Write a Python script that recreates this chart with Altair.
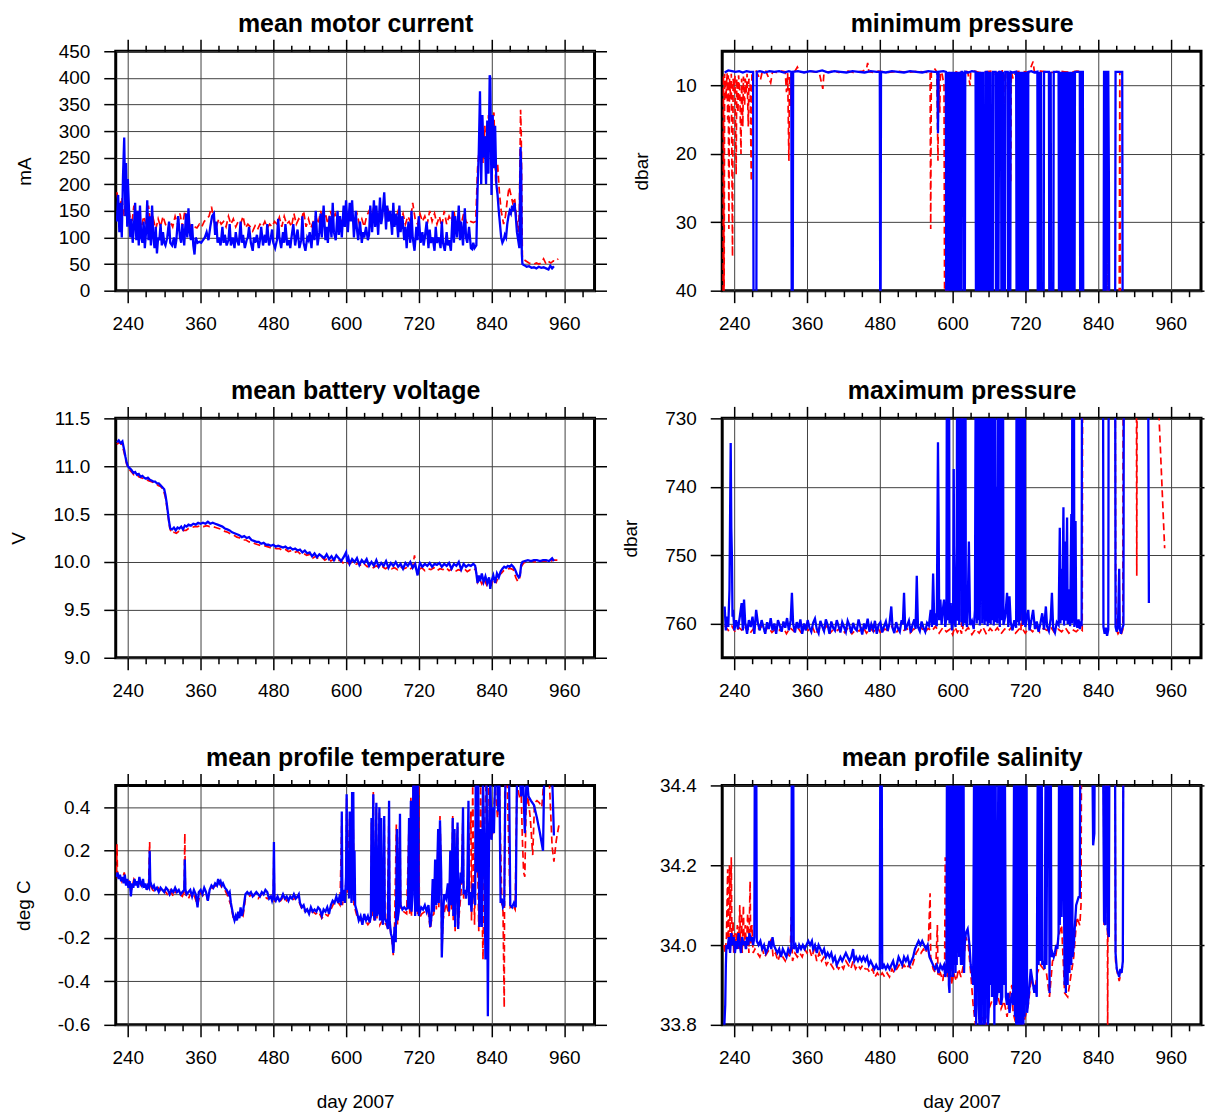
import altair as alt
import pandas as pd

FONT = "Liberation Sans"
X_DOMAIN = [220, 1010]
X_MAJOR = [240, 360, 480, 600, 720, 840, 960]
X_MINOR = [270, 300, 330, 390, 420, 450, 510, 540, 570, 630, 660, 690, 750, 780, 810, 870, 900, 930, 990]
PW, PH = 480, 240

# ---------------- mean motor current (mA) ----------------
motor_blue = [(222,130),(224,180),(226,110),(228,165),(230,100),(232,215),(234,288),(236,140),(237,240),(239,120),(240,210),(242,150),(244,100),(246,135),(248,90),(250,120),(252,165),(254,95),(256,150),(258,85),(260,160),(262,100),(264,90),(266,130),(268,80),(270,110),(272,170),(274,95),(276,140),(278,85),(280,160),(282,100),(284,80),(286,120),(288,70),(290,100),(292,95),(294,125),(296,85),(298,110),(300,90),(302,85),(305,100),(308,130),(310,90),(313,85),(316,100),(318,80),(320,95),(323,140),(326,100),(328,90),(330,125),(333,85),(336,145),(338,100),(340,155),(342,110),(344,95),(346,125),(348,85),(350,68),(352,100),(355,90),(358,92),(361,90),(364,95),(367,100),(370,110),(373,95),(376,120),(379,140),(382,145),(384,105),(386,130),(388,90),(390,100),(393,85),(396,120),(398,90),(400,105),(403,85),(406,95),(408,125),(410,85),(413,100),(416,80),(418,110),(420,95),(423,85),(426,130),(428,90),(430,105),(433,80),(436,95),(438,100),(440,120),(443,90),(446,75),(448,100),(450,90),(453,105),(456,80),(458,95),(460,120),(463,85),(466,105),(468,90),(470,125),(473,85),(476,100),(478,115),(480,90),(483,80),(486,95),(488,135),(490,100),(493,80),(496,110),(498,90),(500,125),(503,85),(506,95),(508,80),(510,100),(513,125),(516,85),(518,100),(520,115),(523,80),(526,95),(528,140),(530,90),(533,75),(536,100),(538,95),(540,110),(543,80),(546,130),(548,95),(550,150),(553,85),(556,110),(558,145),(560,100),(563,160),(566,95),(568,120),(570,90),(573,140),(576,100),(578,165),(580,110),(583,95),(586,150),(588,105),(590,140),(593,100),(596,160),(598,120),(600,170),(603,110),(606,165),(608,130),(610,170),(613,100),(616,150),(618,115),(620,95),(623,130),(626,90),(628,110),(630,100),(633,120),(636,95),(638,105),(640,160),(643,110),(646,170),(648,120),(650,160),(653,105),(656,175),(658,125),(660,140),(663,185),(666,115),(668,160),(670,130),(673,150),(676,105),(678,165),(680,120),(683,145),(686,100),(688,160),(690,110),(693,140),(696,95),(698,120),(700,80),(703,130),(706,90),(708,150),(710,100),(713,75),(716,120),(718,95),(720,140),(723,90),(726,110),(728,85),(730,100),(733,130),(736,80),(738,115),(740,90),(743,100),(746,75),(748,120),(750,90),(753,100),(756,80),(758,130),(760,90),(763,75),(766,110),(768,85),(770,95),(773,75),(776,150),(778,90),(780,140),(783,100),(786,160),(788,95),(790,130),(793,85),(796,155),(798,100),(800,90),(803,120),(806,80),(808,78),(810,90),(812,80),(815,85),(817,190),(819,260),(821,375),(823,200),(825,330),(827,250),(829,290),(831,200),(833,320),(835,220),(837,405),(838,400),(840,180),(842,330),(844,230),(846,310),(848,200),(850,180),(852,150),(854,125),(856,100),(858,90),(860,95),(862,105),(864,100),(866,125),(868,140),(870,150),(872,145),(874,160),(876,150),(878,165),(880,140),(882,110),(884,95),(886,80),(887,180),(888,270),(889,230),(890,70),(891,50),(894,48),(898,45),(902,46),(906,43),(910,44),(914,42),(918,45),(922,43),(926,44),(930,42),(934,40),(937,47),(940,42),(943,46)]
motor_red = [(222,185),(226,150),(230,175),(234,140),(238,200),(242,150),(246,120),(250,160),(254,130),(258,150),(262,115),(266,140),(270,125),(274,160),(278,120),(282,135),(286,115),(290,135),(294,120),(298,140),(302,125),(306,115),(310,130),(314,120),(318,140),(322,125),(326,145),(330,120),(334,150),(338,130),(342,125),(346,115),(350,120),(354,118),(358,125),(362,120),(366,130),(370,135),(374,140),(378,158),(382,130),(386,120),(390,135),(394,125),(398,130),(402,120),(406,140),(410,125),(414,135),(418,120),(422,130),(426,125),(430,140),(434,118),(438,125),(442,120),(446,112),(450,122),(454,115),(458,125),(462,120),(466,130),(470,118),(474,125),(478,120),(482,130),(486,125),(490,138),(494,120),(498,140),(502,125),(506,130),(510,120),(514,145),(518,125),(522,135),(526,130),(530,150),(534,120),(538,135),(542,118),(546,130),(550,140),(554,125),(558,150),(562,130),(566,145),(570,125),(574,150),(578,135),(582,145),(586,130),(590,140),(594,125),(598,145),(602,135),(606,150),(610,140),(614,130),(618,145),(622,125),(626,135),(630,120),(634,140),(638,150),(642,130),(646,160),(650,135),(654,150),(658,140),(662,160),(666,135),(670,150),(674,130),(678,145),(682,135),(686,150),(690,130),(694,145),(698,125),(702,140),(706,130),(710,165),(714,135),(718,125),(722,145),(726,130),(730,140),(734,125),(738,150),(742,130),(746,145),(750,125),(754,140),(758,120),(762,150),(766,125),(770,140),(774,130),(778,150),(782,120),(786,135),(790,125),(794,145),(798,130),(802,125),(806,130),(810,128),(814,130),(817,230),(820,270),(823,330),(826,240),(829,310),(832,235),(835,330),(838,260),(841,300),(844,335),(847,200),(850,240),(853,185),(856,150),(860,125),(863,140),(866,170),(869,195),(872,180),(875,165),(878,175),(881,140),(884,110),(886,150),(888,340),(889,300),(891,60),(894,58),(898,55),(902,52),(906,50),(910,50),(914,52),(918,50),(922,52),(926,60),(930,50),(934,55),(938,52),(942,56),(946,55),(950,60)]

# ---------------- minimum pressure (dbar) ----------------
minp_blue = [(224,8.1),(230,7.8),(236,7.9),(242,8.0),(248,7.9),(254,8.1),(260,7.9),(266,8.0),(271,8.0),(272,60),(276,60),(277,8.0),(282,7.9),(290,8.1),(298,7.9),(306,8.0),(314,7.9),(322,8.1),(330,7.9),(334,8.0),(335,60),(336,60),(337,8.0),(345,7.9),(355,8.1),(365,7.9),(375,8.0),(385,7.8),(395,8.1),(405,7.9),(415,8.0),(425,8.1),(435,7.9),(445,8.0),(455,8.1),(465,7.9),(475,8.0),(480,8.0),(481,60),(482,8.0),(490,8.1),(500,7.9),(510,8.0),(520,8.1),(530,7.9),(540,8.0),(550,8.1),(560,7.9),(570,8.0),(575,8.0),(576,17),(577,8.0),(585,7.9),(589,8.0),(590,60),(591,8.0),(592,60),(593,8),(594,60),(595,8),(596,60),(597,8),(598,60),(599,8),(600,60),(601,8),(602,60),(603,8),(604,60),(605,60),(606,8),(607,60),(608,8),(609,60),(610,8),(611,60),(612,8),(613,60),(614,60),(615,8),(616,8),(617,24),(618,8),(619,60),(620,60),(621,8),(626,8.1),(632,7.9),(638,8.0),(639,60),(641,8),(642,60),(643,8),(644,60),(646,8),(647,60),(649,8),(650,60),(651,8),(652,60),(654,60),(655,8),(657,8),(658,60),(660,8),(661,60),(663,8),(664,60),(666,60),(667,8),(671,8),(672,60),(674,8),(675,60),(677,8),(680,8),(681,60),(683,8),(684,60),(686,60),(687,8),(691,8),(692,60),(694,8),(695,60),(696,8),(700,8.1),(705,8),(706,60),(707,8),(708,60),(709,8),(710,60),(711,8),(712,60),(713,8),(714,60),(715,8),(716,60),(717,8),(718,60),(719,8),(720,60),(721,8),(722,60),(723,8),(724,60),(725,8),(730,7.9),(735,8.1),(740,8),(741,60),(743,8),(744,60),(746,8),(747,60),(750,60),(751,8),(755,8),(759,8),(760,60),(762,8),(763,60),(766,60),(767,8),(771,8),(775,8),(776,60),(777,8),(778,60),(779,8),(780,60),(781,8),(782,60),(783,8),(784,60),(785,8),(786,60),(787,8),(788,60),(789,8),(790,60),(791,8),(792,60),(793,8),(794,60),(795,8),(796,60),(797,8),(798,60),(799,8),(800,60),(801,60),(802,8),(806,8),(810,8),(811,60),(813,8),(815,8),(816,60),(849,60),(850,8),(852,8),(853,60),(854,60),(855,8),(857,8),(858,24),(859,60),(868,60),(869,8),(872,8),(874,8),(877,8),(880,8),(881,60)]
minp_red = [(221,45),(222,8.5),(223,45),(224,8.3),(226,12),(228,8.2),(229,15),(230,8.5),(231,31),(232,9),(234,12),(235,8.3),(237,35),(238,9),(240,11),(241,8.5),(243,23),(244,9),(246,14),(247,8.5),(249,11),(251,20),(252,9),(254,16),(255,8.7),(257,13),(258,9),(260,11),(261,8.3),(263,16),(264,9),(266,10),(268,24),(269,8.5),(272,8.1),(276,7.9),(283,9.2),(286,8),(292,7.9),(300,9.6),(303,8),(310,8.1),(318,7.9),(324,8.0),(326,11),(328,8.2),(330,21),(331,8.5),(333,13),(334,8),(340,7.9),(344,7.3),(348,8),(356,8.1),(364,7.9),(372,8),(380,8.1),(386,10.5),(388,8),(396,8),(404,7.9),(412,8.1),(420,8),(428,7.9),(436,8.1),(444,8),(452,7.9),(458,7.6),(460,6.7),(462,8),(470,8.1),(478,7.9),(486,8),(494,8.1),(502,8),(510,7.9),(518,8),(526,8.1),(534,8),(542,7.9),(550,8),(558,8.1),(563,8),(564,31),(565,8),(570,7.5),(574,8),(576,21),(577,8.2),(579,14),(580,8),(583,8.4),(586,10),(587,45),(589,45),(590,8.2),(592,45),(594,8),(597,15),(598,8.3),(604,7.9),(610,8.2),(616,8),(620,7.9),(625,8),(629,10),(630,8),(636,7.9),(645,8.1),(655,8),(665,7.9),(672,8.5),(674,8),(676,12),(677,8),(682,7.6),(685,19),(686,8),(690,8.1),(696,24),(697,8),(700,9),(705,8),(712,7.9),(720,8),(726,8.1),(733,6.5),(735,8),(745,7.9),(755,8),(765,8.1),(775,7.9),(785,8),(795,8.1),(805,7.9),(813,8),(816,45),(855,45),(856,24),(857,45),(875,45),(876,8),(877,45)]

# ---------------- mean battery voltage (V) ----------------
batt_blue = [(222,11.25),(225,11.27),(228,11.24),(231,11.26),(234,11.17),(236,11.1),(238,11.04),(240,11.0),(243,10.98),(246,10.96),(249,10.93),(252,10.94),(255,10.91),(258,10.92),(261,10.89),(264,10.9),(267,10.88),(270,10.87),(273,10.88),(276,10.86),(279,10.85),(282,10.84),(285,10.84),(288,10.82),(291,10.82),(294,10.80),(297,10.78),(300,10.76),(302,10.70),(304,10.62),(306,10.52),(308,10.42),(310,10.35),(313,10.34),(316,10.36),(319,10.33),(322,10.36),(325,10.35),(328,10.37),(331,10.34),(334,10.38),(337,10.37),(340,10.39),(344,10.38),(348,10.40),(352,10.39),(356,10.41),(360,10.40),(364,10.41),(368,10.40),(372,10.42),(376,10.40),(380,10.41),(384,10.40),(388,10.39),(392,10.38),(396,10.37),(400,10.35),(404,10.34),(408,10.33),(412,10.31),(416,10.30),(420,10.29),(424,10.28),(428,10.26),(432,10.27),(436,10.25),(440,10.26),(444,10.23),(448,10.22),(452,10.21),(456,10.21),(460,10.19),(464,10.20),(468,10.18),(472,10.18),(476,10.17),(480,10.18),(484,10.16),(488,10.17),(492,10.16),(496,10.15),(500,10.16),(504,10.14),(508,10.15),(512,10.13),(516,10.14),(520,10.12),(524,10.13),(528,10.10),(532,10.12),(536,10.09),(540,10.10),(544,10.06),(548,10.09),(552,10.05),(556,10.08),(560,10.06),(564,10.04),(568,10.08),(572,10.03),(576,10.06),(580,10.02),(584,10.07),(588,10.04),(592,10.01),(596,10.05),(600,10.10),(602,10.0),(604,10.04),(606,9.98),(610,10.03),(614,10.0),(618,10.04),(622,9.97),(626,10.02),(630,9.99),(634,10.03),(638,9.96),(642,10.0),(646,9.96),(650,10.02),(654,9.95),(658,9.99),(662,9.96),(666,10.01),(670,9.94),(674,9.99),(678,9.96),(682,10.0),(686,9.95),(690,9.98),(694,9.93),(698,9.99),(702,9.96),(706,10.0),(710,9.94),(714,9.98),(718,9.86),(720,9.93),(722,9.99),(726,9.95),(730,9.98),(734,9.96),(738,9.99),(742,9.95),(746,9.98),(750,9.97),(754,9.99),(758,9.95),(762,9.98),(766,9.96),(770,9.99),(774,9.93),(778,9.98),(782,9.96),(786,10.0),(790,9.92),(794,9.98),(798,9.95),(802,9.97),(806,9.96),(810,9.98),(813,9.96),(815,9.88),(817,9.78),(819,9.86),(821,9.80),(824,9.88),(827,9.79),(830,9.85),(833,9.78),(836,9.84),(838,9.72),(840,9.80),(843,9.86),(846,9.78),(849,9.88),(852,9.84),(855,9.90),(858,9.93),(861,9.95),(864,9.94),(867,9.96),(870,9.95),(873,9.97),(876,9.95),(879,9.92),(882,9.87),(885,9.84),(887,9.86),(889,9.97),(891,10.0),(895,10.01),(900,10.02),(905,10.01),(910,10.02),(915,10.02),(920,10.01),(925,10.02),(930,10.02),(935,10.01),(940,10.04),(943,10.01)]
batt_red = [(222,11.23),(226,11.25),(230,11.23),(234,11.14),(238,11.02),(242,10.97),(246,10.94),(250,10.91),(254,10.92),(258,10.89),(262,10.88),(266,10.87),(270,10.86),(274,10.85),(278,10.84),(282,10.83),(286,10.82),(290,10.80),(294,10.79),(298,10.76),(302,10.68),(306,10.50),(309,10.36),(312,10.30),(316,10.31),(320,10.30),(324,10.32),(328,10.31),(332,10.33),(336,10.33),(340,10.35),(345,10.36),(350,10.37),(355,10.37),(360,10.38),(365,10.37),(370,10.38),(375,10.37),(380,10.37),(385,10.36),(390,10.35),(395,10.34),(400,10.32),(405,10.31),(410,10.29),(415,10.28),(420,10.26),(425,10.25),(430,10.23),(435,10.23),(440,10.21),(445,10.21),(450,10.19),(455,10.18),(460,10.17),(465,10.17),(470,10.16),(475,10.15),(480,10.15),(485,10.14),(490,10.14),(495,10.12),(500,10.13),(505,10.11),(510,10.12),(515,10.10),(520,10.11),(525,10.08),(530,10.09),(535,10.07),(540,10.08),(545,10.04),(550,10.06),(555,10.03),(560,10.05),(565,10.02),(570,10.04),(575,10.01),(580,10.03),(585,10.0),(590,10.02),(595,9.99),(600,10.01),(605,9.98),(610,10.0),(615,9.97),(620,9.99),(625,9.96),(630,9.98),(635,9.95),(640,9.97),(645,9.94),(650,9.96),(655,9.94),(660,9.95),(665,9.93),(670,9.95),(675,9.93),(680,9.94),(685,9.92),(690,9.95),(695,9.93),(700,9.94),(705,9.92),(710,9.95),(713,10.07),(715,9.93),(720,9.92),(725,9.94),(730,9.91),(735,9.93),(740,9.92),(745,9.94),(750,9.91),(755,9.93),(760,9.92),(765,9.94),(770,9.91),(775,9.93),(780,9.90),(785,9.92),(790,9.91),(795,9.93),(800,9.90),(805,9.92),(810,9.91),(814,9.93),(817,9.79),(820,9.83),(824,9.77),(828,9.82),(832,9.76),(836,9.81),(840,9.77),(844,9.83),(848,9.79),(852,9.86),(856,9.88),(860,9.91),(864,9.92),(868,9.93),(872,9.93),(876,9.92),(880,9.84),(883,9.80),(886,9.81),(889,9.95),(893,9.99),(898,10.0),(905,10.01),(912,10.0),(920,10.01),(928,10.01),(935,10.0),(942,10.02),(950,10.02)]

# ---------------- maximum pressure (dbar) ----------------
maxp_blue = [(224,757.5),(226,761),(228,759),(230,760.5),(232,755),(234,733.6),(235,746),(236,750),(237,759),(238,758),(240,761),(243,759.5),(246,760.8),(249,759),(252,757),(254,761),(256,756.5),(258,760),(261,761.5),(264,759.5),(267,760.5),(270,759),(273,761.5),(276,758),(279,760),(282,761),(285,759.5),(288,760.5),(291,761.5),(294,759.8),(297,760.8),(300,759.2),(303,761),(306,760),(309,761.5),(312,759.5),(315,760.3),(318,761.2),(321,759.7),(324,760.6),(327,759.2),(330,761),(333,759.5),(335,755.5),(337,760),(340,761.3),(343,759.8),(346,760.7),(349,759.4),(352,761.5),(355,760),(358,761),(361,759.5),(364,760.6),(367,761.2),(370,759.9),(373,759.3),(376,760.8),(379,761.4),(382,759.6),(385,760.4),(388,761.1),(391,759.4),(394,760.2),(397,761.5),(400,759.7),(403,760.6),(406,761),(409,759.5),(412,760.4),(415,761.3),(418,759.8),(421,760.5),(424,761.2),(427,759.6),(430,760.3),(433,761.4),(436,759.9),(439,760.7),(442,761),(445,759.4),(448,760.5),(451,761.6),(454,760),(457,760.8),(460,759.3),(463,761.2),(466,760.1),(469,760.9),(472,759.6),(475,761.5),(478,760.2),(481,759.8),(484,761.3),(487,760.4),(490,759.7),(493,761.1),(496,760),(499,757.5),(501,760.6),(504,761.4),(507,759.8),(510,760.7),(513,761.2),(516,759.5),(518,760.1),(520,755.5),(522,761),(525,760.3),(528,759.6),(531,761.3),(534,760.2),(537,759.4),(539,760.8),(541,753),(543,760.5),(546,761.1),(549,759.7),(552,760.6),(555,761.2),(558,759.9),(561,760.3),(564,758),(566,760.5),(568,752.7),(570,760.2),(572,758.5),(574,760.4),(576,733.5),(577,744.3),(578,759.5),(580,756.5),(582,760.2),(584,758),(586,756.5),(588,760.5),(590,759),(591,700),(592,759.5),(594,700),(595,760),(597,757),(599,761),(601,759),(602,737.4),(603,759.5),(605,760.5),(607,748.5),(608,700),(609,759.6),(610,700),(611,760.2),(612,700),(613,745),(614,700),(615,759.8),(616,700),(617,760.4),(618,735),(619,700),(620,760),(621,700),(622,759.5),(624,760.5),(625,758),(627,748),(629,760.2),(632,759.6),(635,760.8),(637,758),(639,700),(640,760),(641,700),(642,759.5),(643,748),(644,700),(645,760.3),(646,700),(647,752),(648,700),(649,760),(650,740),(651,759.4),(652,700),(653,760.2),(654,700),(655,759.7),(656,745),(657,700),(658,760.4),(659,700),(660,759.9),(661,748),(662,700),(663,760.1),(664,750),(665,759.5),(667,700),(668,760.3),(670,700),(671,759.8),(673,740),(674,760),(676,700),(677,751),(678,760.5),(680,700),(681,759.5),(683,700),(684,760.2),(687,759),(690,755.5),(692,760.5),(694,756),(696,759.8),(699,761),(702,759.5),(705,760.6),(706,700),(707,759.8),(709,700),(710,760.3),(711,700),(712,759.6),(714,745),(715,700),(716,760.2),(717,700),(718,759.9),(719,700),(720,760.5),(722,759.4),(725,758),(727,761),(730,759.6),(733,758),(736,760.8),(739,759.7),(742,761.2),(745,760),(748,758.5),(751,760.9),(754,757.5),(756,760.4),(759,761.1),(762,759.3),(764,755.5),(766,760.6),(769,761.3),(772,759.8),(775,760.2),(777,746),(778,760),(780,752),(781,759.5),(783,743),(784,760.3),(786,748),(787,759.6),(789,744.5),(790,760.1),(792,755),(794,760.4),(796,744),(797,760),(798,700),(799,759.7),(800,700),(801,760.5),(803,745),(804,759.8),(806,760.6),(808,759.4),(810,760.8),(812,759.7),(813,760.4),(814,700),(848,700),(849,760.5),(851,761.5),(853,760.6),(855,761.8),(857,760.9),(858,700),(868,700),(869,760.5),(871,761.2),(873,760.3),(875,752),(876,760.8),(878,761.5),(880,760.7),(882,760.2),(883,700),(922,700),(924,757)]
maxp_red = [(224,760.3),(230,761.0),(236,760.4),(242,761.3),(248,760.6),(254,761.1),(260,760.4),(266,761.4),(272,760.7),(278,761.0),(284,760.3),(290,761.2),(296,760.5),(302,761.3),(308,760.8),(314,761.0),(320,760.4),(326,761.5),(332,760.6),(338,761.1),(344,760.5),(350,761.3),(356,760.7),(362,761.0),(368,760.3),(374,761.6),(380,760.6),(386,761.1),(392,760.4),(398,761.4),(404,760.8),(410,761.0),(416,760.5),(422,761.3),(428,760.6),(434,761.5),(440,760.9),(446,761.1),(452,760.4),(458,761.4),(464,760.7),(470,761.2),(476,760.5),(482,761.5),(488,760.8),(494,761.0),(500,760.4),(506,761.5),(512,760.7),(518,761.2),(524,760.6),(530,761.4),(536,760.8),(542,761.0),(548,760.5),(554,761.3),(560,760.7),(566,761.1),(572,760.4),(578,761.4),(584,760.6),(590,761.2),(596,760.8),(600,761.6),(604,760.5),(608,761.3),(612,760.7),(615,761.5),(616,700),(617,760.9),(620,761.2),(626,760.6),(632,761.6),(638,760.8),(644,761.4),(650,760.5),(656,761.6),(662,760.7),(668,761.3),(674,760.6),(680,761.5),(686,760.8),(692,761.1),(698,760.5),(704,761.4),(710,760.8),(713,761.2),(714,700),(715,760.7),(720,761.4),(726,760.6),(732,761.2),(738,760.5),(744,761.3),(750,760.7),(756,761.0),(762,760.5),(768,761.3),(774,760.8),(780,761.2),(786,760.6),(792,761.4),(798,760.9),(804,761.2),(810,760.7),(814,761),(815,700),(868,700),(869,750),(870,760.8),(873,761.5),(876,761),(879,761.4),(881,760.9),(882,700),(903,700),(904,753),(905,700),(936,720),(950,749)]

# ---------------- mean profile temperature (deg C) ----------------
temp_blue = [(221,0.08),(223,0.1),(225,0.07),(227,0.09),(229,0.06),(231,0.08),(233,0.05),(235,0.09),(237,0.04),(239,0.07),(241,0.03),(243,0.06),(245,-0.01),(247,0.05),(249,0.03),(251,0.07),(253,0.04),(255,0.06),(257,0.03),(259,0.08),(261,0.05),(263,0.04),(265,0.07),(267,0.03),(269,0.05),(271,0.02),(273,0.04),(275,0.03),(276,0.2),(277,0.06),(279,0.04),(281,0.03),(283,0.04),(285,0.02),(288,0.03),(291,0.01),(294,0.03),(297,0.02),(300,0.01),(303,0.03),(306,0.02),(309,0.0),(312,0.02),(315,0.01),(318,0.03),(321,0.01),(324,0.02),(327,0.0),(330,0.01),(333,0.02),(334,0.16),(335,0.02),(337,0.0),(340,0.01),(343,0.02),(346,-0.01),(349,0.02),(352,0.0),(355,-0.06),(357,0.01),(360,0.02),(363,0.0),(366,0.03),(369,0.01),(372,-0.03),(375,0.02),(378,0.04),(381,0.03),(384,0.05),(387,0.04),(389,0.07),(391,0.05),(393,0.06),(395,0.04),(397,0.05),(400,0.03),(403,0.02),(406,0.0),(408,0.01),(410,-0.04),(412,-0.07),(414,-0.1),(416,-0.12),(418,-0.1),(420,-0.12),(422,-0.08),(424,-0.11),(426,-0.06),(428,-0.1),(430,-0.08),(432,-0.04),(434,0.0),(437,0.01),(440,0.0),(443,0.01),(446,-0.01),(449,0.0),(452,0.01),(455,0.0),(458,-0.01),(461,0.01),(464,0.0),(467,0.02),(470,0.01),(473,-0.02),(476,-0.01),(478,-0.03),(480,-0.01),(481,0.24),(482,-0.02),(484,-0.03),(487,-0.01),(490,-0.03),(493,-0.02),(496,0.0),(499,-0.02),(502,-0.01),(505,-0.03),(508,-0.01),(511,-0.02),(514,0.0),(517,-0.02),(520,-0.01),(522,0.0),(524,-0.04),(527,-0.06),(530,-0.05),(533,-0.08),(536,-0.07),(539,-0.09),(542,-0.06),(545,-0.08),(548,-0.07),(551,-0.08),(554,-0.06),(557,-0.07),(560,-0.1),(563,-0.07),(566,-0.08),(569,-0.06),(572,-0.09),(575,-0.05),(578,-0.03),(581,-0.04),(584,-0.01),(587,-0.04),(590,0.0),(592,-0.05),(593,0.38),(594,-0.03),(596,0.02),(598,-0.04),(600,0.08),(601,0.46),(602,0.02),(604,0.2),(605,-0.02),(606,0.38),(607,0.05),(608,0.3),(609,-0.04),(610,0.47),(611,0.1),(612,0.47),(613,-0.03),(614,0.2),(615,-0.05),(618,-0.08),(621,-0.12),(624,-0.1),(627,-0.14),(630,-0.09),(633,-0.12),(636,-0.1),(639,-0.13),(641,-0.1),(642,0.35),(643,-0.08),(645,0.46),(646,-0.1),(648,-0.12),(650,0.42),(651,-0.1),(653,-0.08),(655,0.4),(656,-0.12),(658,0.35),(659,-0.1),(661,-0.14),(663,0.36),(664,-0.11),(667,-0.13),(669,-0.16),(671,0.43),(672,-0.12),(674,-0.18),(676,-0.2),(678,-0.27),(680,-0.15),(682,-0.22),(684,0.3),(685,-0.12),(687,-0.08),(689,0.37),(690,-0.05),(693,-0.07),(696,-0.06),(699,-0.07),(702,-0.06),(704,0.35),(705,-0.07),(707,0.43),(708,-0.08),(710,0.0),(711,0.55),(712,0.25),(713,0.55),(714,-0.1),(715,0.55),(716,0.3),(717,-0.08),(718,0.55),(719,0.35),(720,-0.1),(722,-0.08),(724,-0.06),(727,-0.07),(730,-0.05),(733,-0.08),(736,-0.05),(739,-0.15),(741,-0.1),(743,0.07),(745,-0.08),(747,0.16),(749,-0.05),(752,0.3),(753,-0.04),(755,0.34),(757,0.1),(758,-0.29),(760,-0.1),(762,0.0),(765,-0.02),(768,0.05),(770,-0.08),(772,0.2),(774,-0.05),(776,0.35),(777,-0.1),(779,0.3),(780,-0.15),(782,0.1),(784,0.33),(785,-0.16),(787,0.0),(789,0.1),(791,0.05),(793,0.4),(794,0.0),(796,0.02),(798,-0.02),(800,0.04),(802,0.43),(803,-0.05),(805,0.01),(807,-0.08),(809,0.05),(811,0.02),(813,-0.05),(814,0.55),(816,0.1),(818,0.55),(820,-0.15),(822,0.3),(824,-0.15),(826,0.55),(828,0.2),(830,-0.3),(832,0.55),(834,-0.56),(836,0.3),(838,0.55),(840,0.25),(842,0.4),(844,0.28),(846,0.55),(849,0.55),(851,0.38),(853,0.55),(855,-0.04),(857,-0.02),(859,-0.06),(861,-0.05),(863,0.55),(866,0.55),(869,0.55),(871,-0.05),(874,-0.06),(877,-0.04),(880,-0.06),(882,0.55),(886,0.55),(889,0.45),(892,0.55),(895,0.28),(898,0.55),(901,0.45),(905,0.43),(910,0.41),(915,0.35),(920,0.28),(925,0.2),(927,0.55),(935,0.55),(940,0.55),(943,0.27)]
temp_red = [(221,0.1),(222,0.23),(223,0.08),(226,0.09),(230,0.06),(234,0.1),(238,0.05),(242,0.06),(246,0.02),(250,0.07),(254,0.05),(258,0.06),(262,0.04),(266,0.05),(270,0.03),(274,0.02),(276,0.24),(277,0.04),(281,0.02),(285,0.01),(290,0.03),(295,0.01),(300,0.02),(305,0.0),(310,0.02),(315,-0.01),(320,0.02),(325,0.0),(330,-0.01),(333,0.02),(334,0.28),(335,0.0),(340,-0.02),(345,0.01),(350,-0.01),(355,-0.05),(360,0.01),(365,-0.01),(370,-0.02),(375,0.01),(380,0.03),(385,0.04),(390,0.06),(395,0.03),(400,0.02),(405,-0.01),(410,-0.05),(414,-0.11),(418,-0.12),(422,-0.1),(426,-0.09),(430,-0.1),(434,-0.02),(440,-0.01),(445,0.0),(450,-0.01),(455,-0.02),(460,0.0),(465,-0.01),(470,-0.02),(475,-0.01),(480,-0.02),(481,0.22),(482,-0.03),(487,-0.02),(492,-0.03),(497,-0.01),(502,-0.03),(507,-0.02),(512,-0.03),(517,-0.01),(522,-0.03),(526,-0.06),(530,-0.08),(535,-0.07),(540,-0.09),(545,-0.08),(550,-0.09),(555,-0.08),(560,-0.11),(565,-0.09),(570,-0.1),(575,-0.07),(580,-0.04),(585,-0.03),(590,-0.05),(593,0.35),(594,-0.05),(600,0.05),(601,0.44),(602,0.0),(606,0.35),(607,0.02),(610,0.45),(611,0.05),(612,0.3),(613,-0.05),(618,-0.1),(624,-0.12),(630,-0.11),(636,-0.14),(641,-0.12),(642,0.33),(643,-0.1),(645,0.47),(646,-0.12),(650,0.4),(651,-0.12),(655,0.38),(656,-0.14),(660,-0.12),(663,0.34),(664,-0.13),(668,-0.15),(671,0.42),(672,-0.14),(676,-0.22),(678,-0.28),(680,-0.17),(683,0.32),(684,0.1),(685,-0.14),(689,0.35),(690,-0.07),(695,-0.08),(700,-0.09),(704,0.33),(705,-0.09),(707,0.45),(708,-0.1),(711,0.5),(712,0.2),(713,0.5),(714,-0.1),(716,0.3),(717,0.34),(718,-0.1),(720,0.5),(721,-0.11),(725,-0.09),(730,-0.08),(735,-0.07),(739,-0.16),(742,-0.1),(745,-0.09),(747,0.15),(749,-0.07),(752,0.28),(753,-0.06),(755,0.36),(757,0.08),(758,-0.28),(760,-0.12),(765,-0.04),(770,-0.1),(772,0.18),(774,-0.07),(776,0.36),(777,-0.12),(779,0.28),(780,-0.17),(784,0.31),(785,-0.15),(790,0.02),(793,0.38),(794,-0.02),(800,0.02),(806,0.38),(807,-0.12),(809,0.5),(812,-0.14),(815,0.5),(819,-0.17),(822,0.5),(825,-0.15),(826,-0.3),(828,0.28),(831,0.5),(835,0.5),(838,0.25),(842,0.28),(846,0.5),(850,0.35),(853,0.5),(857,-0.04),(859,-0.08),(861,-0.52),(862,0.5),(866,0.5),(871,-0.06),(875,-0.05),(879,-0.07),(882,0.5),(886,0.45),(889,0.46),(891,0.25),(893,0.1),(895,0.08),(897,0.4),(900,0.45),(904,0.35),(908,0.18),(911,0.42),(915,0.43),(919,0.42),(923,0.4),(927,0.55),(935,0.55),(940,0.22),(943,0.15),(947,0.25),(952,0.33)]

# ---------------- mean profile salinity ----------------
sal_blue = [(223,33.78),(225,33.85),(226,33.95),(227,34.0),(229,33.99),(231,34.02),(233,33.98),(235,34.03),(237,34.0),(239,34.02),(241,33.98),(243,34.01),(245,33.99),(247,34.03),(249,34.0),(251,33.98),(253,34.02),(255,34.0),(257,34.01),(259,33.99),(261,34.02),(263,34.0),(265,34.03),(267,34.01),(269,34.02),(271,34.0),(273,34.02),(274,34.6),(276,34.6),(277,34.01),(280,34.0),(283,34.01),(286,33.99),(289,34.0),(292,33.98),(295,33.99),(298,34.01),(301,33.99),(303,34.02),(305,34.0),(308,33.99),(311,33.98),(314,33.99),(317,33.97),(320,33.99),(323,33.98),(326,33.97),(329,33.99),(332,33.98),(334,33.99),(335,34.6),(337,34.6),(338,33.99),(341,34.0),(344,33.98),(347,34.0),(350,33.99),(353,34.0),(356,33.99),(359,34.0),(362,34.01),(365,34.0),(368,34.01),(370,33.99),(373,34.0),(376,33.98),(379,34.0),(382,33.99),(385,33.98),(388,33.99),(391,33.97),(394,33.98),(397,33.97),(400,33.98),(403,33.96),(406,33.97),(409,33.95),(412,33.96),(415,33.97),(418,33.96),(421,33.97),(424,33.98),(427,33.97),(430,33.96),(433,33.97),(436,33.99),(438,33.96),(441,33.97),(444,33.96),(447,33.97),(450,33.96),(453,33.97),(456,33.96),(459,33.97),(462,33.95),(465,33.96),(468,33.95),(471,33.94),(474,33.95),(477,33.94),(480,33.94),(481,34.6),(483,34.6),(484,33.94),(487,33.95),(490,33.94),(493,33.95),(496,33.94),(499,33.95),(502,33.96),(505,33.94),(508,33.95),(511,33.97),(514,33.96),(517,33.95),(520,33.97),(523,33.96),(526,33.97),(529,33.95),(532,33.96),(535,33.97),(538,33.99),(541,34.0),(544,34.01),(547,34.0),(550,34.01),(553,34.0),(556,33.99),(559,34.0),(562,33.97),(565,33.96),(568,33.95),(571,33.94),(574,33.95),(577,33.93),(580,33.95),(583,33.94),(586,33.95),(588,33.92),(590,33.94),(591,34.6),(592,33.93),(593,34.6),(594,33.9),(595,33.88),(596,34.6),(597,33.92),(598,34.6),(599,33.94),(600,34.6),(601,33.92),(602,34.6),(603,33.95),(604,34.6),(605,33.93),(606,34.6),(607,33.95),(608,34.6),(609,33.98),(610,34.6),(611,33.97),(612,34.6),(613,34.0),(614,33.95),(616,34.6),(617,33.95),(618,34.6),(619,33.93),(620,34.0),(622,34.03),(625,34.04),(628,34.0),(630,33.95),(632,33.93),(634,33.9),(636,34.6),(637,33.82),(638,34.6),(639,33.78),(640,34.6),(642,34.6),(643,33.85),(645,33.78),(646,34.6),(648,33.78),(649,34.6),(651,34.6),(652,33.78),(654,33.82),(655,34.6),(657,34.6),(658,33.78),(660,33.85),(661,34.6),(663,33.9),(664,34.6),(665,33.87),(667,33.9),(668,34.6),(669,33.78),(671,34.6),(672,33.85),(674,33.88),(676,34.6),(677,33.88),(679,34.6),(680,33.85),(682,33.87),(683,34.6),(685,33.9),(686,34.6),(688,33.87),(690,33.85),(692,33.88),(694,33.83),(696,33.86),(698,33.88),(700,33.85),(702,34.6),(703,33.82),(704,34.6),(705,33.8),(706,34.6),(707,33.79),(708,34.6),(709,33.78),(710,34.6),(711,33.78),(712,34.6),(713,33.78),(714,34.6),(715,33.79),(716,34.6),(717,33.8),(718,34.6),(719,33.82),(720,34.6),(721,33.85),(722,34.6),(723,33.83),(725,33.86),(727,33.9),(729,33.94),(731,33.92),(733,33.9),(735,33.88),(737,33.9),(739,33.87),(741,34.6),(742,33.95),(744,34.6),(745,33.96),(747,34.6),(748,33.95),(750,33.96),(752,33.94),(754,34.6),(755,33.95),(757,34.6),(758,34.35),(759,34.6),(760,33.88),(762,34.6),(763,33.97),(765,33.98),(767,33.97),(769,33.98),(771,34.0),(773,33.99),(775,34.03),(776,34.6),(777,34.05),(779,34.6),(780,34.07),(782,34.6),(784,34.1),(785,33.9),(786,34.6),(787,33.88),(789,34.6),(790,33.9),(792,34.6),(793,33.93),(795,34.6),(796,33.95),(797,34.6),(798,33.97),(800,34.0),(802,34.05),(804,34.1),(806,34.11),(808,34.12),(810,34.12),(811,34.6),(830,34.6),(832,34.25),(834,34.28),(835,34.6),(848,34.6),(850,34.06),(852,34.05),(853,34.6),(855,34.6),(856,34.04),(858,34.02),(859,34.6),(868,34.6),(869,33.98),(871,33.94),(873,33.93),(875,33.92),(877,33.94),(879,33.93),(881,33.96),(882,34.6)]
sal_red = [(223,34.0),(225,33.98),(227,34.02),(229,34.19),(230,34.0),(232,34.2),(233,33.99),(235,34.22),(236,34.0),(238,34.06),(239,33.98),(241,34.03),(243,34.0),(245,34.05),(247,33.99),(249,34.1),(250,33.99),(252,34.08),(253,33.98),(255,34.1),(256,34.0),(258,34.05),(260,33.99),(262,34.08),(264,33.98),(266,34.16),(267,34.0),(269,34.05),(271,33.98),(274,33.99),(278,33.98),(282,33.97),(286,33.99),(290,33.97),(294,33.98),(298,33.99),(301,34.02),(304,33.97),(308,33.98),(312,33.96),(316,33.98),(320,33.97),(324,33.96),(328,33.98),(332,33.97),(334,34.07),(336,33.96),(340,33.98),(344,33.97),(348,33.98),(352,33.97),(356,33.99),(360,33.98),(364,33.99),(368,33.97),(372,33.99),(376,33.96),(380,33.98),(384,33.96),(388,33.97),(392,33.95),(396,33.96),(400,33.95),(404,33.94),(408,33.95),(412,33.94),(416,33.95),(420,33.94),(424,33.96),(428,33.95),(432,33.94),(436,33.96),(440,33.94),(444,33.95),(448,33.94),(452,33.95),(456,33.94),(460,33.94),(464,33.93),(468,33.94),(472,33.92),(476,33.93),(480,33.92),(484,33.93),(488,33.92),(492,33.93),(496,33.92),(500,33.94),(504,33.93),(508,33.94),(512,33.95),(516,33.94),(520,33.95),(524,33.94),(528,33.95),(532,33.94),(536,33.96),(540,33.98),(544,33.99),(548,33.98),(552,33.99),(556,33.98),(560,34.0),(563,34.13),(564,33.97),(568,33.94),(572,33.93),(575,34.05),(576,33.92),(580,33.93),(584,33.91),(587,33.95),(588,34.22),(589,33.93),(592,33.92),(596,34.4),(598,33.9),(602,33.93),(606,33.91),(610,33.94),(614,33.92),(618,33.95),(622,34.02),(626,34.0),(630,33.93),(634,33.85),(638,33.8),(642,33.78),(646,33.8),(650,33.82),(655,33.8),(660,33.84),(665,33.86),(670,33.85),(675,33.87),(680,33.84),(685,33.86),(690,33.82),(695,33.88),(698,33.9),(700,33.83),(705,33.8),(710,33.78),(715,33.79),(720,33.82),(725,33.85),(730,33.92),(735,33.88),(740,33.93),(745,33.95),(750,33.94),(755,33.93),(760,33.87),(765,33.96),(770,33.97),(775,34.02),(780,34.05),(785,33.88),(790,33.87),(795,33.92),(800,33.97),(805,34.07),(810,34.05),(812,34.1),(813,34.6),(849,34.6),(850,34.05),(852,34.16),(853,34.6),(855,34.6),(856,33.75),(857,34.6),(868,34.6),(869,33.96),(872,33.93),(875,33.91),(878,33.93),(881,33.95),(882,34.6)]


def panel(title, red, blue, ydomain, yvalues, yfmt, ytitle=None, reverse=False, xtitle=None, rtick=12):
    df_red = pd.DataFrame(red, columns=["day", "val"])
    df_blue = pd.DataFrame(blue, columns=["day", "val"])
    xs = alt.Scale(domain=X_DOMAIN, nice=False, zero=False)
    ys = alt.Scale(domain=ydomain, nice=False, zero=False, reverse=reverse)
    lbl = "replace(format(datum.value, '%s'), '\u2212', '-')" % yfmt

    xb_kw = dict(orient="bottom", values=X_MAJOR, grid=True, tickSize=12, labelPadding=12,
                 labelExpr="format(datum.value, 'd')")
    if xtitle:
        xb_kw.update(title=xtitle, titlePadding=25)
    else:
        xb_kw.update(title=None)
    yl_kw = dict(orient="left", values=yvalues, grid=True, tickSize=12, labelPadding=14, labelExpr=lbl)
    if ytitle:
        yl_kw.update(title=ytitle, titlePadding=24)
    else:
        yl_kw.update(title=None)

    red_line = alt.Chart(df_red).mark_line(
        color="#ff0000", strokeWidth=1.7, strokeDash=[7, 4], clip=True
    ).encode(
        x=alt.X("day:Q", scale=xs, axis=alt.Axis(**xb_kw)),
        y=alt.Y("val:Q", scale=ys, axis=alt.Axis(**yl_kw)),
    )
    blue_line = alt.Chart(df_blue).mark_line(color="#0000ff", strokeWidth=2.3, clip=True).encode(
        x=alt.X("day:Q", scale=xs, axis=alt.Axis(orient="top", values=X_MAJOR, labels=False,
                                                  tickSize=12, grid=False, title=title,
                                                  titleFontSize=25, titleFontWeight="bold",
                                                  titlePadding=2)),
        y=alt.Y("val:Q", scale=ys, axis=alt.Axis(orient="right", values=yvalues, labels=False,
                                                  tickSize=rtick, grid=False, title=None)),
    )
    minor_bottom = alt.Chart(df_blue).mark_line(opacity=0).encode(
        x=alt.X("day:Q", scale=xs, axis=alt.Axis(orient="bottom", values=X_MINOR, labels=False,
                                                  tickSize=6, grid=False, title=None)),
        y=alt.Y("val:Q", scale=ys, axis=None),
    )
    minor_top = alt.Chart(df_blue).mark_line(opacity=0).encode(
        x=alt.X("day:Q", scale=xs, axis=alt.Axis(orient="top", values=X_MINOR, labels=False,
                                                  tickSize=6, grid=False, title=None)),
        y=alt.Y("val:Q", scale=ys, axis=None),
    )
    return alt.layer(red_line, blue_line, minor_bottom, minor_top).resolve_scale(
        x="independent", y="independent"
    ).properties(width=PW, height=PH)


p1 = panel("mean motor current", motor_red, motor_blue, [0, 450],
           [0, 50, 100, 150, 200, 250, 300, 350, 400, 450], "d", ytitle="mA")
p2 = panel("minimum pressure", minp_red, minp_blue, [5, 40], [10, 20, 30, 40], "d",
           ytitle="dbar", reverse=True, rtick=3)
p3 = panel("mean battery voltage", batt_red, batt_blue, [9.0, 11.5],
           [9.0, 9.5, 10.0, 10.5, 11.0, 11.5], ".1f", ytitle="V")
p4 = panel("maximum pressure", maxp_red, maxp_blue, [730, 765], [730, 740, 750, 760], "d",
           ytitle="dbar", reverse=True, rtick=3)
p5 = panel("mean profile temperature", temp_red, temp_blue, [-0.6, 0.5],
           [-0.6, -0.4, -0.2, 0.0, 0.2, 0.4], ".1f", ytitle="deg C", xtitle="day 2007")
p6 = panel("mean profile salinity", sal_red, sal_blue, [33.8, 34.4],
           [33.8, 34.0, 34.2, 34.4], ".1f", xtitle="day 2007", rtick=3)

chart = alt.concat(p1, p2, p3, p4, p5, p6, columns=2, spacing=128, bounds="flush").properties(
    padding={"left": 0, "top": 0, "right": 0, "bottom": 0},
    background="white",
).configure_view(
    stroke="black", strokeWidth=3
).configure_axis(
    labelFont=FONT, labelFontSize=19, labelColor="black",
    titleFont=FONT, titleFontSize=19, titleFontWeight="normal", titleColor="black",
    tickColor="black", tickWidth=1.5, domain=False,
    gridColor="#404040", gridWidth=1, gridOpacity=1,
)

chart.save("out.html", embed_options={"renderer": "svg", "actions": False})
